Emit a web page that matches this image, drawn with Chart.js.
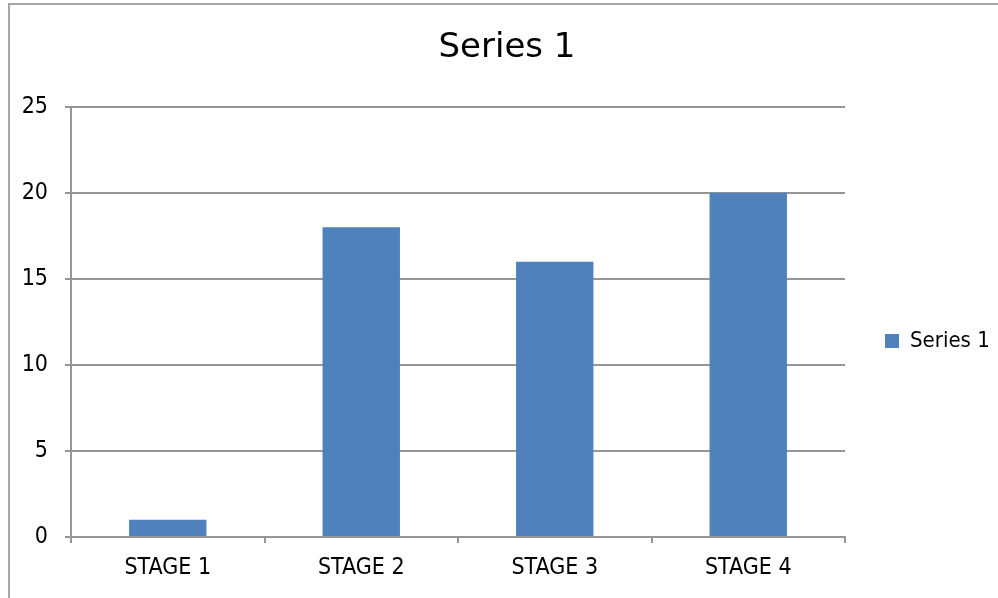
<!DOCTYPE html>
<html>
<head>
<meta charset="utf-8">
<script src="https://cdn.jsdelivr.net/npm/chart.js@4/dist/chart.umd.min.js"></script>
<style>
    html, body { margin: 0; padding: 0; background: #fff; overflow: hidden; }
    #frame { position: absolute; left: 8px; top: 3px; width: 1100px; height: 700px; border: 2px solid #a6a6a6; box-sizing: border-box; }
    #stageChart { position: absolute; left: 0; top: 0; }
</style>
</head>
<body>
<div id="frame"></div>
<canvas id="stageChart" width="998" height="598"></canvas>
<script>
// Chart data
const stageLabels = ['STAGE 1', 'STAGE 2', 'STAGE 3', 'STAGE 4'];
const seriesName = 'Series 1';
const seriesValues = [1, 18, 16, 20];
const yTicks = { min: 0, max: 25, step: 5 };

const narrowFamily = "'Liberation Sans Narrow', 'DejaVu Sans Condensed', sans-serif";
const axisFont = { family: narrowFamily, size: 23 };
const gridColor = '#969696';

// legend column: fixed width, item pushed down next to the plot middle
const legendPlacement = {
    id: 'legendPlacement',
    beforeInit(chart) {
        const fit = chart.legend.fit;
        chart.legend.fit = function () {
            fit.call(this);
            this.width = 153;
        };
    },
    afterLayout(chart) {
        chart.legend.top += 32;
        chart.legend.bottom += 32;
    }
};

const ctx = document.getElementById('stageChart').getContext('2d');
new Chart(ctx, {
    type: 'bar',
    data: {
        labels: stageLabels,
        datasets: [{
            label: seriesName,
            data: seriesValues,
            backgroundColor: '#4f81bd',
            borderWidth: 0,
            barPercentage: 0.4,
            categoryPercentage: 1,
        }]
    },
    options: {
        responsive: false,
        animation: false,
        layout: { padding: { left: 16, top: 20, right: 0, bottom: 0 } },
        scales: {
            x: {
                grid: {
                    offset: true,
                    drawOnChartArea: false,
                    drawTicks: true,
                    tickLength: 6,
                    color: gridColor,
                    lineWidth: 2,
                },
                border: { color: gridColor, width: 2 },
                ticks: { font: axisFont, color: '#000', padding: 11 },
                afterFit: scale => { scale.height = 61; },
            },
            y: {
                min: yTicks.min,
                max: yTicks.max,
                ticks: { stepSize: yTicks.step, font: axisFont, color: '#000', padding: 17 },
                grid: { color: gridColor, lineWidth: 2, tickLength: 6 },
                border: { color: gridColor, width: 2 },
                afterFit: scale => { scale.width = 55; },
            }
        },
        plugins: {
            title: {
                display: true,
                text: seriesName,
                color: '#000',
                font: { family: "'DejaVu Sans', sans-serif", size: 34, weight: 'normal', lineHeight: 1.2 },
                padding: { top: 8, bottom: 38 },
            },
            legend: {
                position: 'right',
                labels: {
                    boxWidth: 14,
                    boxHeight: 14,
                    padding: 40,
                    color: '#000',
                    font: { family: narrowFamily, size: 22 },
                },
            },
            tooltip: { enabled: false },
        },
    },
    plugins: [legendPlacement],
});
</script>
</body>
</html>
